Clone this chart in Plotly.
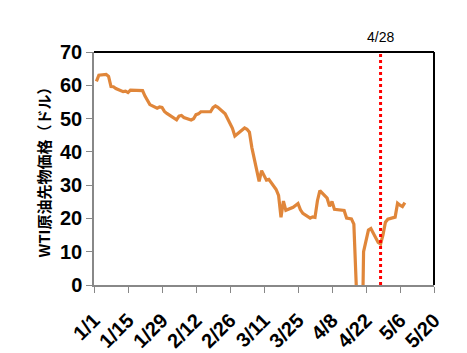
import plotly.graph_objects as go

dates = ["2020-01-02","2020-01-03","2020-01-06","2020-01-07","2020-01-08","2020-01-09","2020-01-10",
"2020-01-13","2020-01-14","2020-01-15","2020-01-16","2020-01-17","2020-01-21","2020-01-22","2020-01-23","2020-01-24",
"2020-01-27","2020-01-28","2020-01-29","2020-01-30","2020-01-31","2020-02-03","2020-02-04","2020-02-05","2020-02-06","2020-02-07",
"2020-02-10","2020-02-11","2020-02-12","2020-02-13","2020-02-14","2020-02-18","2020-02-19","2020-02-20","2020-02-21",
"2020-02-24","2020-02-25","2020-02-26","2020-02-27","2020-02-28","2020-03-02","2020-03-03","2020-03-04","2020-03-05","2020-03-06",
"2020-03-09","2020-03-10","2020-03-11","2020-03-12","2020-03-13","2020-03-16","2020-03-17","2020-03-18","2020-03-19","2020-03-20",
"2020-03-23","2020-03-24","2020-03-25","2020-03-26","2020-03-27","2020-03-30","2020-03-31","2020-04-01","2020-04-02","2020-04-03",
"2020-04-06","2020-04-07","2020-04-08","2020-04-09","2020-04-13","2020-04-14","2020-04-15","2020-04-16","2020-04-17",
"2020-04-20","2020-04-21","2020-04-22","2020-04-23","2020-04-24","2020-04-27","2020-04-28","2020-04-29","2020-04-30","2020-05-01",
"2020-05-04","2020-05-05","2020-05-06","2020-05-07","2020-05-08"]
prices = [61.18,63.05,63.27,62.70,59.61,59.56,59.04,
58.08,58.23,57.81,58.52,58.54,58.38,56.74,55.59,54.19,
53.14,53.48,53.33,52.14,51.56,50.11,49.61,50.75,50.95,50.32,
49.57,49.94,51.17,51.42,52.05,52.05,53.29,53.78,53.38,
51.43,49.90,48.73,47.09,44.76,46.75,47.18,46.78,45.90,41.28,
31.13,34.36,32.98,31.50,31.73,28.70,26.95,20.37,25.22,22.43,
23.36,24.01,24.49,22.60,21.51,20.09,20.48,20.31,25.32,28.34,
26.08,23.63,25.09,22.76,22.41,20.11,19.87,19.87,18.27,
-37.63,10.01,13.78,16.50,16.94,12.78,12.34,15.06,18.84,19.78,
20.39,24.56,23.99,23.55,24.74]
marker_date = "2020-04-28"
marker_label = "4/28"
y_title = "WTI原油先物価格（ドル）"

fig = go.Figure()
fig.add_trace(go.Scatter(x=dates, y=prices, mode="lines",
                         line=dict(color="#E0863A", width=3.2), showlegend=False))
fig.add_shape(type="line", xref="x", yref="paper", x0=marker_date, x1=marker_date, y0=0, y1=1,
              line=dict(color="#FF0000", width=3, dash="dot"))
fig.add_annotation(x=marker_date, y=1, xref="x", yref="paper", text=marker_label, showarrow=False,
                   yanchor="bottom", yshift=5, font=dict(size=14, color="black", family="Liberation Sans"))
# top and right borders
fig.add_shape(type="line", xref="paper", yref="paper", x0=0, x1=1, y0=1, y1=1, line=dict(color="black", width=2))
fig.add_shape(type="line", xref="paper", yref="paper", x0=1, x1=1, y0=0, y1=1, line=dict(color="black", width=2))

fig.update_layout(
    width=467, height=353, margin=dict(l=94, r=33, t=52, b=68, autoexpand=False),
    paper_bgcolor="white", plot_bgcolor="white",
    font=dict(family="Liberation Sans, Arial, sans-serif", color="black"),
    xaxis=dict(type="date", range=["2020-01-01", "2020-05-20"], tick0="2020-01-01", dtick=14*86400000,
               tickformat="%-m/%-d", tickangle=-45, showgrid=False, showline=True, linecolor="#888888",
               linewidth=1.5, ticks="outside", ticklen=6, tickcolor="#888888",
               tickfont=dict(size=20, weight="bold"), ticklabelstandoff=8, automargin=False,
               zeroline=False),
    yaxis=dict(range=[0, 70], dtick=10, showgrid=False, showline=True, linecolor="#888888", linewidth=1.5,
               ticks="outside", ticklen=6, tickcolor="#888888", tickfont=dict(size=20, weight="bold"),
               zeroline=False, automargin=False,
               title=dict(text="<b>" + y_title + "</b>", font=dict(size=15, family="Noto Sans CJK JP"), standoff=6)),
)
fig.write_html("out.html")
